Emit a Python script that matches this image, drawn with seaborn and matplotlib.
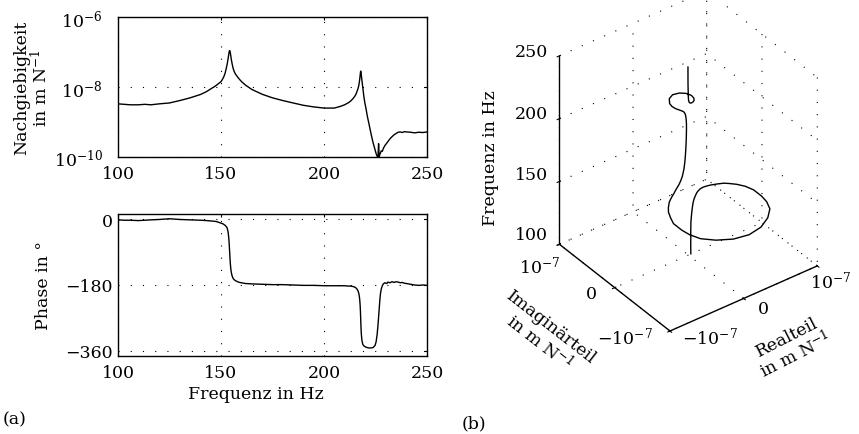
import numpy as np
import pandas as pd
import matplotlib
matplotlib.use("Agg")
import matplotlib.pyplot as plt
import seaborn as sns
from matplotlib.ticker import NullLocator
from mpl_toolkits.mplot3d import proj3d

# ---------------- data ----------------
freq = [100, 103, 106, 110, 113, 116, 120, 125, 130, 135, 140, 143, 145, 147, 148, 149,
        150, 150.5, 151, 151.5, 152,
        152.5, 152.8, 153.0, 153.2, 153.4, 153.55, 153.7, 153.8, 153.9, 154.0, 154.1,
        154.2, 154.3, 154.4, 154.5, 154.6, 154.7, 154.85, 155.0, 155.2, 155.4, 155.7,
        156.0, 156.5, 157,
        158, 159, 160, 162, 165, 170, 175, 180, 185, 190, 195, 200, 205, 208, 210, 212,
        213, 214, 215, 215.5, 216, 216.5, 216.8,
        217.0, 217.2, 217.4, 217.55, 217.7, 217.8, 217.9, 218.0, 218.15, 218.35, 218.6,
        218.9, 219.3, 219.8, 220.4, 221.0, 221.8,
        222.8, 223.8, 224.8, 225.3, 225.8, 226.2, 226.5, 226.8, 227.1, 227.4, 227.8, 228.3,
        228.8, 229.5, 230.5, 231.0,
        232, 233, 234, 235, 236, 237, 238, 239, 240, 242, 244, 246, 248, 250]
mag = [3.3e-9, 3.2e-9, 3.1e-9, 3.1e-9, 3.2e-9, 3.1e-9, 3.3e-9, 3.5e-9, 4.1e-9, 4.9e-9,
       6.1e-9, 7.4e-9, 8.8e-9, 1.04e-8, 1.15e-8, 1.28e-8,
       1.42e-8, 1.58e-8, 1.78e-8, 2.05e-8, 2.5e-8,
       3.3e-8, 4.0e-8, 4.5e-8, 5.3e-8, 6.2e-8, 7.1e-8, 8.1e-8, 8.9e-8, 9.7e-8, 1.03e-7,
       1.08e-7, 1.1e-7, 1.08e-7, 1.03e-7, 9.7e-8, 8.9e-8, 8.1e-8, 7.1e-8, 6.2e-8, 5.3e-8,
       4.6e-8, 3.8e-8, 3.25e-8, 2.7e-8, 2.35e-8,
       1.95e-8, 1.65e-8, 1.42e-8, 1.12e-8, 8.5e-9, 6.2e-9, 4.9e-9, 4.1e-9, 3.5e-9, 3.0e-9,
       2.7e-9, 2.5e-9, 2.5e-9, 2.8e-9, 3.1e-9, 3.6e-9, 4.0e-9, 4.6e-9, 5.5e-9, 6.2e-9,
       7.4e-9, 9.0e-9, 1.05e-8,
       1.2e-8, 1.45e-8, 1.8e-8, 2.15e-8, 2.6e-8, 2.85e-8, 2.75e-8, 2.5e-8, 2.1e-8, 1.65e-8,
       1.25e-8, 9.0e-9, 5.6e-9, 3.6e-9, 2.4e-9, 1.5e-9, 9.0e-10,
       4.7e-10, 2.6e-10, 1.6e-10, 1.25e-10, 1.05e-10, 1.0e-10, 2.4e-10, 1.0e-10, 1.2e-10,
       1.3e-10, 1.5e-10, 1.45e-10, 1.75e-10, 2.1e-10, 2.5e-10, 2.75e-10,
       3.3e-10, 3.8e-10, 4.3e-10, 4.7e-10, 5.1e-10, 5.2e-10, 5.0e-10, 5.3e-10, 5.2e-10,
       5.1e-10, 4.9e-10, 5.1e-10, 5.0e-10, 5.2e-10]
phase = [-2, -3, -3, -4, -3, -2, -1, 1, -1, -2, -3, -4, -5, -6, -7, -9,
         -11, -12, -13, -15, -17,
         -20, -22, -25, -29, -34, -40, -48, -54, -61, -70, -80, -90, -100, -110, -119,
         -126, -132, -140, -145, -151, -155, -160, -163, -166, -168,
         -171, -173, -174, -176, -177, -178, -179, -179, -180, -181, -181, -182, -182, -182,
         -182, -183, -183, -184, -186, -188, -191, -196, -201,
         -206, -213, -224, -236, -254, -270, -286, -301, -316, -328, -337, -343, -346, -348,
         -350, -351, -352,
         -352, -351, -345, -335, -315, -290, -268, -245, -222, -204, -191, -182, -177, -174,
         -176, -172,
         -174, -171, -173, -171, -172, -174, -173, -175, -176, -178, -180, -181, -180, -181]

mag_ticks = [1e-10, 1e-8, 1e-6]
mag_ticklabels = ["$10^{-10}$", "$10^{-8}$", "$10^{-6}$"]
phase_ticks = [-360, -180, 0]
phase_ticklabels = ["\u2212360", "\u2212180", "0"]
f_ticks = [100, 150, 200, 250]
f_ticklabels = ["100", "150", "200", "250"]
ri_ticks = [-1e-7, 0, 1e-7]
ri_ticklabels = ["$-10^{-7}$", "$0$", "$10^{-7}$"]

df = pd.DataFrame({"f": freq, "mag": mag, "phase": phase})
df["re"] = df["mag"] * np.cos(np.deg2rad(df["phase"]))
df["im"] = df["mag"] * np.sin(np.deg2rad(df["phase"]))

# ---------------- style ----------------
sns.set_theme(style="white")
FS = 12.5
plt.rcParams.update({
    "font.family": ["DejaVu Serif"],
    "mathtext.fontset": "dejavuserif",
    "font.size": FS,
    "axes.edgecolor": "black",
    "axes.linewidth": 1.0,
    "axes.labelcolor": "black",
    "text.color": "black",
    "xtick.color": "black",
    "ytick.color": "black",
    "xtick.labelsize": FS,
    "ytick.labelsize": FS,
    "axes.labelsize": FS,
    "grid.color": "black",
    "grid.linestyle": (0, (1, 10)),
    "grid.linewidth": 0.8,
    "xtick.direction": "in",
    "ytick.direction": "in",
    "xtick.top": True,
    "ytick.right": True,
    "xtick.major.size": 2.5,
    "ytick.major.size": 2.5,
    "xtick.major.width": 0.8,
    "ytick.major.width": 0.8,
})

W, H = 859, 435
fig = plt.figure(figsize=(W / 100, H / 100), dpi=100)

ax1 = fig.add_axes([118 / W, 1 - 158 / H, 309 / W, 140 / H])
ax2 = fig.add_axes([118 / W, 1 - 357 / H, 309 / W, 142 / H])

sns.lineplot(data=df, x="f", y="mag", ax=ax1, color="black", lw=1.0)
ax1.set_yscale("log")
ax1.set_ylim(1e-10, 1e-6)
ax1.set_xlim(100, 250)
ax1.set_yticks(mag_ticks, mag_ticklabels)
ax1.yaxis.set_minor_locator(NullLocator())
ax1.set_xticks(f_ticks, f_ticklabels)
ax1.grid(True)
ax1.set_xlabel("")
ax1.set_ylabel("Nachgiebigkeit\nin m N$^{-1}$", linespacing=1.0)
ax1.yaxis.set_label_coords(-0.215, 0.5)
ax1.tick_params(axis="y", pad=11)
ax1.tick_params(axis="x", pad=6)

sns.lineplot(data=df, x="f", y="phase", ax=ax2, color="black", lw=1.0)
ax2.set_ylim(-374, 14)
ax2.set_xlim(100, 250)
ax2.set_yticks(phase_ticks, phase_ticklabels)
ax2.set_xticks(f_ticks, f_ticklabels)
ax2.grid(True)
ax2.set_xlabel("Frequenz in Hz")
ax2.xaxis.set_label_coords(0.447, -0.205)
ax2.set_ylabel("Phase in \u00b0")
ax2.yaxis.set_label_coords(-0.215, 0.5)
ax2.tick_params(axis="y", pad=4)
ax2.tick_params(axis="x", pad=6)

for ax in (ax1, ax2):
    for sp in ax.spines.values():
        sp.set_visible(True)
        sp.set_color("black")

# ---------------- 3D Nyquist ----------------
ax3 = fig.add_axes([0.55, 0.0, 0.45 * H / W * 2, 0.9], projection="3d", proj_type="ortho")
ax3.view_init(elev=36.07, azim=-126.9)
ax3.set_box_aspect((1, 1, 1.266))
ax3.plot(df["re"], df["im"], df["f"], color="black", lw=1.0)
ax3.set_xlim(-1e-7, 1e-7)
ax3.set_ylim(-1e-7, 1e-7)
ax3.set_zlim(100, 250)
ax3.set_xticks(ri_ticks, ["", "", ""])
ax3.set_yticks(ri_ticks, ["", "", ""])
ax3.set_zticks(f_ticks, ["", "", "", ""])
for axis in (ax3.xaxis, ax3.yaxis, ax3.zaxis):
    axis.set_pane_color((1, 1, 1, 0))
    axis.line.set_color("black")
    axis.line.set_linewidth(1.0)
ax3.set_facecolor((1, 1, 1, 0))

fig.canvas.draw()


def proj_px(x, y, z):
    xs, ys, _ = proj3d.proj_transform(x, y, z, ax3.get_proj())
    return np.array(ax3.transData.transform((xs, ys)))


# fit the 3D box so its corners sit where the reference has them
F_t = np.array([670.0, H - 332.0])
T_t = np.array([559.0, H - 57.0])
for _ in range(2):
    F0 = proj_px(-1e-7, -1e-7, 100)
    T0 = proj_px(-1e-7, 1e-7, 250)
    s = np.linalg.norm(T_t - F_t) / np.linalg.norm(T0 - F0)
    pos = ax3.get_position()
    c0 = np.array([(pos.x0 + pos.x1) / 2 * W, (pos.y0 + pos.y1) / 2 * H])
    wpx, hpx = pos.width * W * s, pos.height * H * s
    d = F_t - (c0 + s * (F0 - c0))
    c1 = c0 + d
    ax3.set_position([(c1[0] - wpx / 2) / W, (c1[1] - hpx / 2) / H, wpx / W, hpx / H])
    fig.canvas.draw()


def put(p, dx, dy, s, **kw):
    fig.text((p[0] + dx) / W, (p[1] - dy) / H, s, **kw)


# tick labels of the 3D axes (offsets in pixels from the projected tick)
imag_off = [(-17, 5), (-18, 6), (1, 21)]
for t, lab, (dx, dy) in zip(ri_ticks, ri_ticklabels, imag_off):
    put(proj_px(-1e-7, t, 100), dx, dy, lab, ha="right", va="center")
real_off = [(12, 5), (13, 10), (-7, 15)]
for t, lab, (dx, dy) in zip(ri_ticks, ri_ticklabels, real_off):
    put(proj_px(t, -1e-7, 100), dx, dy, lab, ha="left", va="center")
z_off = [(-11, -10), (-11, -7), (-11, -5), (-11, -4)]
for t, lab, (dx, dy) in zip(f_ticks, f_ticklabels, z_off):
    put(proj_px(-1e-7, 1e-7, t), dx, dy, lab, ha="right", va="center")

# axis labels of the 3D axes
zm = proj_px(-1e-7, 1e-7, 175)
put(zm, -69, 7, "Frequenz in Hz", ha="center", va="center", rotation=90,
    rotation_mode="anchor")
ym = proj_px(-1e-7, 0, 100)
put(ym, -70, 47, "Imaginärteil\nin m N$^{-1}$", ha="center", va="center",
    rotation=-38, rotation_mode="anchor", linespacing=1.0, multialignment="center")
xm = proj_px(0, -1e-7, 100)
put(xm, 48, 48, "Realteil\nin m N$^{-1}$", ha="center", va="center",
    rotation=27, rotation_mode="anchor", linespacing=1.0, multialignment="center")

fig.text(3 / W, 1 - 420 / H, "(a)", va="center", ha="left")
fig.text(462 / W, 1 - 424 / H, "(b)", va="center", ha="left")

fig.savefig("out.png", dpi=100)
